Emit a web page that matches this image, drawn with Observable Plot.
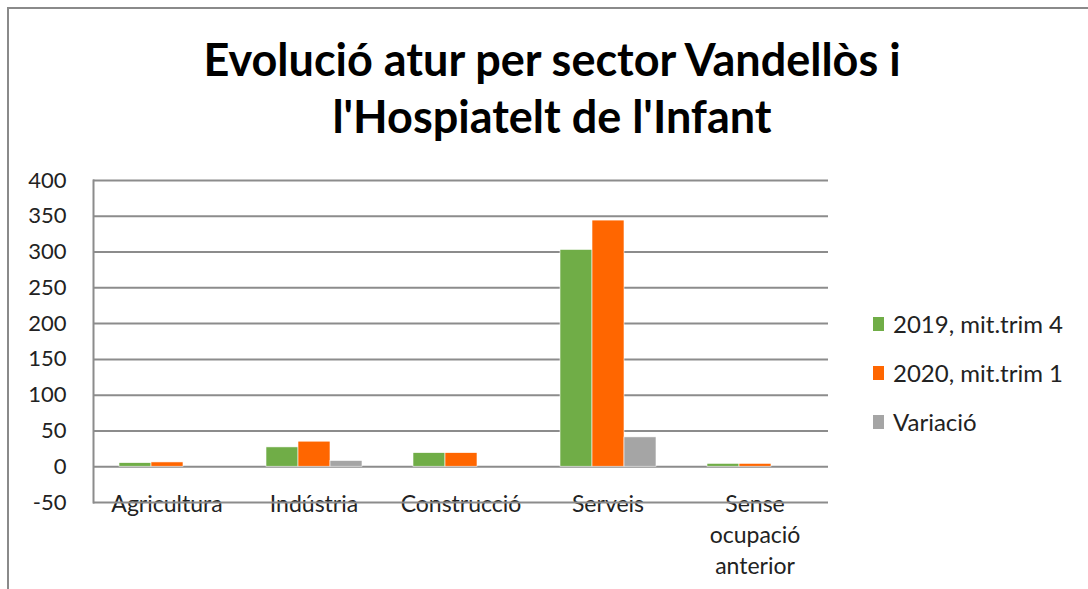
<!DOCTYPE html>
<html>
<head>
<meta charset="utf-8">
<script src="https://cdn.jsdelivr.net/npm/d3@7"></script>
<script src="https://cdn.jsdelivr.net/npm/@observablehq/plot@0.6"></script>
<style>
  html, body { margin: 0; padding: 0; background: #fff; }
  #wrap { position: relative; width: 1088px; height: 589px; overflow: hidden; background: #fff; font-family: Lato, "Open Sans", sans-serif; }
  #border { position: absolute; left: 7px; top: 7px; width: 1200px; height: 700px; border-left: 2px solid #8a8a8a; border-top: 2px solid #8a8a8a; box-sizing: border-box; }
  #title { position: absolute; left: 8px; top: 31px; width: 1088px; text-align: center; font-weight: 700; font-size: 45px; line-height: 57px; color: #000; }
  #chart { position: absolute; left: 0; top: 160px; }
  #legend { position: absolute; left: 873px; top: 299px; font-size: 24px; color: #222; }
  .li { display: flex; align-items: center; height: 49px; }
  .sw { width: 11px; height: 14px; margin-right: 9px; }
</style>
</head>
<body>
<div id="wrap">
  <div id="border"></div>
  <div id="title">Evolució atur per sector Vandellòs i<br>l'Hospiatelt de l'Infant</div>
  <div id="chart"></div>
  <div id="legend"></div>
</div>
<script>
const categories = ["Agricultura", "Indústria", "Construcció", "Serveis", "Sense ocupació anterior"];
const categoryLabels = ["Agricultura", "Indústria", "Construcció", "Serveis", "Sense\nocupació\nanterior"];
const seriesNames = ["2019, mit.trim 4", "2020, mit.trim 1", "Variació"];
const values2019 = [5, 27, 19, 303, 4];
const values2020 = [6, 35, 19, 344, 4];
const valuesVariacio = [0, 8, 0, 41, 0];
const seriesColors = ["#70AD47", "#FF6600", "#A5A5A5"];
const yTicks = [-50, 0, 50, 100, 150, 200, 250, 300, 350, 400];

const seriesValues = [values2019, values2020, valuesVariacio];
const data = [];
categories.forEach((c, i) => {
  seriesNames.forEach((s, j) => {
    data.push({category: c, series: s, value: seriesValues[j][i]});
  });
});
const labelOf = new Map(categories.map((c, i) => [c, categoryLabels[i]]));

const chart = Plot.plot({
  width: 850,
  height: 429,
  marginLeft: 91,
  marginRight: 20,
  marginTop: 20,
  marginBottom: 87,
  style: {fontFamily: "Lato, 'Open Sans', sans-serif", fontSize: "22px", color: "#222", background: "transparent"},
  fx: {domain: categories, padding: 0, label: null},
  x: {domain: seriesNames, paddingInner: 0, paddingOuter: 0.75, axis: null},
  y: {domain: [-50, 400], label: null},
  color: {domain: seriesNames, range: seriesColors},
  marks: [
    Plot.axisFx({
      anchor: "bottom",
      tickSize: 0,
      tickPadding: -13,
      lineHeight: 1.36,
      fontSize: 23,
      fill: "#222",
      label: null,
      tickFormat: (d) => labelOf.get(d)
    }),
    Plot.ruleY(yTicks, {stroke: "#8c8c8c", strokeWidth: 2}),
    Plot.axisY({ticks: yTicks, tickSize: 0, tickPadding: 27, fontSize: 22, fill: "#222", label: null, tickFormat: (d) => String(d)}),
    Plot.frame({anchor: "left", facet: "super", stroke: "#8c8c8c", strokeWidth: 2}),
    Plot.barY(data, {fx: "category", x: "series", y: "value", fill: "series", stroke: "#fff", strokeWidth: 0.6})
  ]
});
document.getElementById("chart").appendChild(chart);

const legend = document.getElementById("legend");
seriesNames.forEach((s, j) => {
  const row = document.createElement("div");
  row.className = "li";
  const sw = document.createElement("div");
  sw.className = "sw";
  sw.style.background = seriesColors[j];
  const t = document.createElement("span");
  t.textContent = s;
  row.appendChild(sw);
  row.appendChild(t);
  legend.appendChild(row);
});
</script>
</body>
</html>
